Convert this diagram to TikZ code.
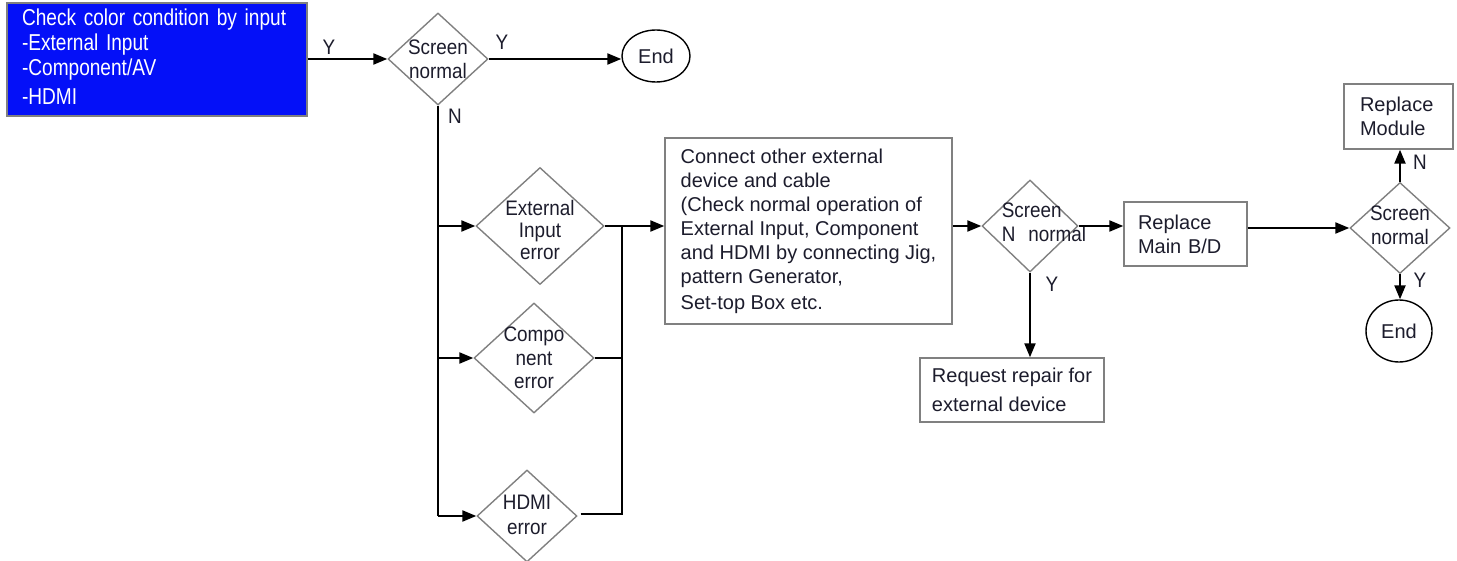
\documentclass[tikz,border=0pt]{standalone}
\usepackage{fontspec}
\setmainfont{Liberation Sans}
\newfontfamily\narrowsans{Liberation Sans}[FakeStretch=0.83]
\newfontfamily\condsans{Liberation Sans}[FakeStretch=0.9]
\usetikzlibrary{shapes.geometric,arrows.meta}
\definecolor{edgegray}{RGB}{128,128,128}
\definecolor{infoblue}{RGB}{4,16,248}
\definecolor{ink}{RGB}{28,28,44}

\begin{document}
\begin{tikzpicture}[x=0.5pt,y=-0.5pt,
  flow/.style={draw=black, line width=1.1pt, -{Triangle[length=7pt,width=5.5pt]}},
  link/.style={draw=black, line width=1.1pt},
  test/.style 2 args={diamond, draw=edgegray, line width=0.7pt, inner sep=0pt,
    minimum width=#1, minimum height=#2},
  dtext/.style={font=\condsans\fontsize{10.5}{11.2}\selectfont, align=center, text=ink},
  stepbox/.style 2 args={rectangle, draw=edgegray, line width=0.7pt, text=ink,
    minimum width=#1, minimum height=#2, align=left, inner sep=0pt,
    font=\fontsize{10}{12}\selectfont},
  terminal/.style 2 args={ellipse, draw=black, line width=0.7pt, inner sep=0pt,
    minimum width=#1, minimum height=#2, text=ink, font=\fontsize{10}{12}\selectfont},
  tag/.style={font=\condsans\fontsize{10.5}{12}\selectfont, text=ink, inner sep=0pt}
]
\useasboundingbox (0,0) rectangle (1457,561);

% start box
\node[rectangle, fill=infoblue, draw=edgegray, line width=0.7pt, text=white,
  text width=135pt, minimum height=56.5pt, align=left, inner xsep=7.5pt, inner ysep=0pt,
  font=\narrowsans\fontsize{11.5}{12.5}\selectfont] (start) at (157,59.5)
  {Check color condition by input\\-External Input\\-Component/AV\\[2pt]-HDMI\vspace{3pt}};

% first test
\node[test={50pt}{46pt}, label={[dtext, font=\condsans\fontsize{10.5}{12.2}\selectfont]center:{Screen\\normal}}] (s1) at (438,59) {};
\node[terminal={34pt}{26pt}] (end1) at (656,56) {End};

% input-specific error checks
\node[test={64pt}{58.5pt}, label={[dtext, yshift=-2pt]center:{External\\Input\\error}}] (ext) at (540,226) {};
\node[test={60pt}{55pt}, label={[dtext, font=\condsans\fontsize{10.5}{11.7}\selectfont]center:{Compo\\nent\\error}}] (comp) at (534,358) {};
\node[test={50pt}{46pt}, label={[dtext, font=\condsans\fontsize{10.5}{12.5}\selectfont, yshift=0.75pt]center:{HDMI\\error}}] (hdmi) at (527,516) {};
\coordinate (join) at (622,226);

% external device check
\node[stepbox={143.5pt}{93pt}] (conn) at (808.5,231)
  {Connect other external\\device and cable\\(Check normal operation of\\External Input, Component\\and HDMI by connecting Jig,\\pattern Generator,\\[1pt]Set-top Box etc.};
\node[test={48pt}{46pt}, label={[dtext, font=\condsans\fontsize{10.5}{12}\selectfont, align=left, xshift=7pt, yshift=2pt]center:{Screen\\N\hspace{6.5pt}normal}}] (s2) at (1030,226) {};
\node[stepbox={92pt}{32pt}, font=\fontsize{10}{14.5}\selectfont] (req) at (1012,390)
  {Request repair for\\external device};

% main board and module
\node[stepbox={61.5pt}{32pt}, text width=47.5pt, inner xsep=7pt] (mainbd) at (1185.5,234) {Replace\\Main B/D};
\node[test={50pt}{45.5pt}, label={[dtext, font=\condsans\fontsize{10.5}{12}\selectfont, yshift=1.5pt]center:{Screen\\normal}}] (s3) at (1400,228) {};
\node[stepbox={54.5pt}{32.5pt}, text width=38.5pt, inner xsep=8pt] (module) at (1398.5,116.5) {Replace\\Module};
\node[terminal={33pt}{31pt}] (end2) at (1399,331) {End};

% connectors
\draw[flow] (start.east |- s1.west) -- (s1.west);
\draw[flow] (s1.east) -- (s1.east -| end1.west);
\draw[link] (s1.south) -- (s1.south |- hdmi.west);
\draw[flow] (s1.south |- ext.west) -- (ext.west);
\draw[flow] (s1.south |- comp.west) -- (comp.west);
\draw[flow] (s1.south |- hdmi.west) -- (hdmi.west);
\draw[flow] (ext.east) -- (ext.east -| conn.west);
\draw[link] ([xshift=1.5pt,yshift=1pt]hdmi.east) -| (join);
\draw[link] (comp.east) -- (comp.east -| join);
\draw[flow] (s2.west -| conn.east) -- (s2.west);
\draw[flow] (s2.south) -- (s2.south |- req.north);
\draw[flow] (s2.east) -- (s2.east -| mainbd.west);
\draw[flow] (mainbd.east |- s3.west) -- (s3.west);
\draw[flow] (s3.north) -- (module.south -| s3.north);
\draw[flow] (s3.south) -- (s3.south |- end2.north);

% branch labels
\node[tag] (y1) at (329,47) {Y};
\node[tag] (y2) at (502,42) {Y};
\node[tag] (n1) at (455,116) {N};
\node[tag] (y3) at (1052,284) {Y};
\node[tag] (n3) at (1420,162) {N};
\node[tag] (y4) at (1420,280) {Y};
\end{tikzpicture}
\end{document}
